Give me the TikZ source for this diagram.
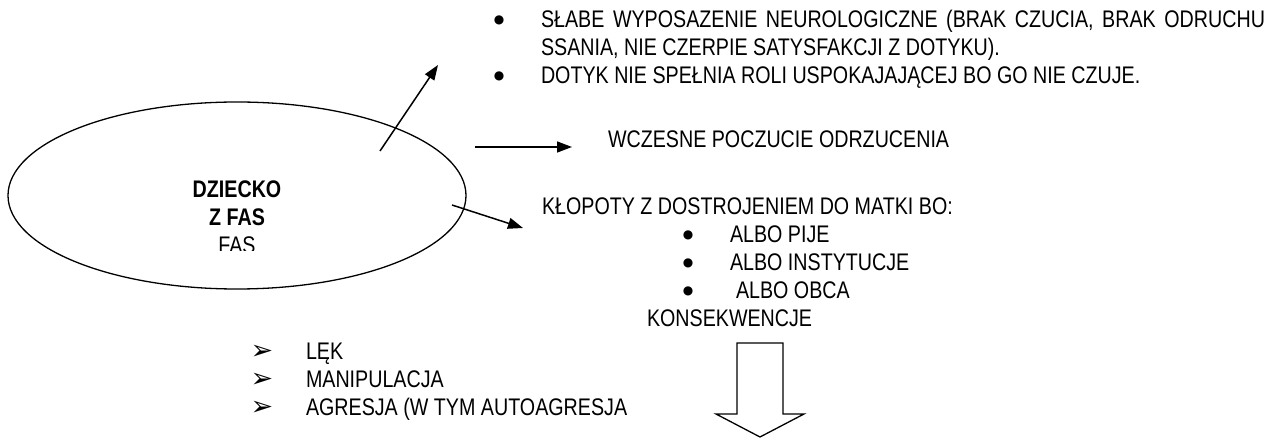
\documentclass[tikz,border=0pt]{standalone}
\usepackage{fontspec}
\setmainfont[FakeStretch=0.82]{Liberation Sans}
\newfontfamily\dejavu{DejaVu Sans}
\usetikzlibrary{arrows.meta,shapes.geometric}
\begin{document}
\begin{tikzpicture}[x=1pt,y=-1pt,
  txt/.style={inner sep=0pt, outer sep=0pt, font=\fontsize{24}{28}\selectfont, anchor=base west},
  ctr/.style={inner sep=0pt, outer sep=0pt, font=\fontsize{24}{28}\selectfont, anchor=base},
  bul/.style={inner sep=0pt, outer sep=0pt, font=\dejavu\fontsize{12}{14}\selectfont, anchor=center},
  arb/.style={inner sep=0pt, outer sep=0pt, font=\dejavu\fontsize{27}{30}\selectfont, anchor=center},
  arr/.style={line width=1.5pt, -{Triangle[length=15pt,width=11pt]}},
  lin/.style={line width=1.3pt}]
\useasboundingbox (0,0) rectangle (1286,438);
% ellipse
\node[ellipse, draw, lin, minimum width=458pt, minimum height=187pt, inner sep=0pt] (child) at (237,195.5) {};
\node[ctr, font=\fontsize{24}{28}\selectfont\bfseries] (t1) at (237,198) {DZIECKO};
\node[ctr, font=\fontsize{24}{28}\selectfont\bfseries] (t2) at (237,226) {Z FAS};
\begin{scope}
\clip (100,230) rectangle (380,250.5);
\node[ctr] (t3) at (237,254) {FAS};
\end{scope}
% top bullets
\node[bul] (b1) at (499,20) {●};
\node[txt] (l1) at (541,28) {\makebox[724pt][s]{SŁABE WYPOSAZENIE NEUROLOGICZNE (BRAK CZUCIA, BRAK ODRUCHU}};
\node[txt] (l2) at (541,56) {SSANIA, NIE CZERPIE SATYSFAKCJI Z DOTYKU).};
\node[bul] (b2) at (499,76) {●};
\node[txt] (l3) at (541,84) {DOTYK NIE SPEŁNIA ROLI USPOKAJAJĄCEJ BO GO NIE CZUJE.};
% middle
\node[txt] (w) at (608,148) {WCZESNE POCZUCIE ODRZUCENIA};
\node[txt] (k) at (542,215) {KŁOPOTY Z DOSTROJENIEM DO MATKI BO:};
\node[bul] (kb1) at (688,235) {●};
\node[txt] (k1) at (730,243) {ALBO PIJE};
\node[bul] (kb2) at (688,263) {●};
\node[txt] (k2) at (730,271) {ALBO INSTYTUCJE};
\node[bul] (kb3) at (688,291) {●};
\node[txt] (k3) at (736,299) {ALBO OBCA};
\node[txt] (kon) at (647,327) {KONSEKWENCJE};
% bottom list
\node[arb] (a1) at (262,352) {➢};
\node[txt] (m1) at (306,360) {LĘK};
\node[arb] (a2) at (262,380) {➢};
\node[txt] (m2) at (306,388) {MANIPULACJA};
\node[arb] (a3) at (262,408) {➢};
\node[txt] (m3) at (306,416) {AGRESJA (W TYM AUTOAGRESJA};
% arrows
\coordinate (s1) at (380,151);
\coordinate (e1) at (438,65);
\coordinate (s2) at (475,147);
\coordinate (e2) at (572,147);
\coordinate (s3) at (452,205);
\coordinate (e3) at (523,228);
\draw[arr] (s1) -- (e1);
\draw[arr] (s2) -- (e2);
\draw[arr] (s3) -- (e3);
% block arrow
\draw[lin, line join=miter] (737,343) -- (783,343) -- (783,414) -- (804,414) -- (760,437) -- (716,414) -- (737,414) -- cycle;
\end{tikzpicture}
\end{document}
